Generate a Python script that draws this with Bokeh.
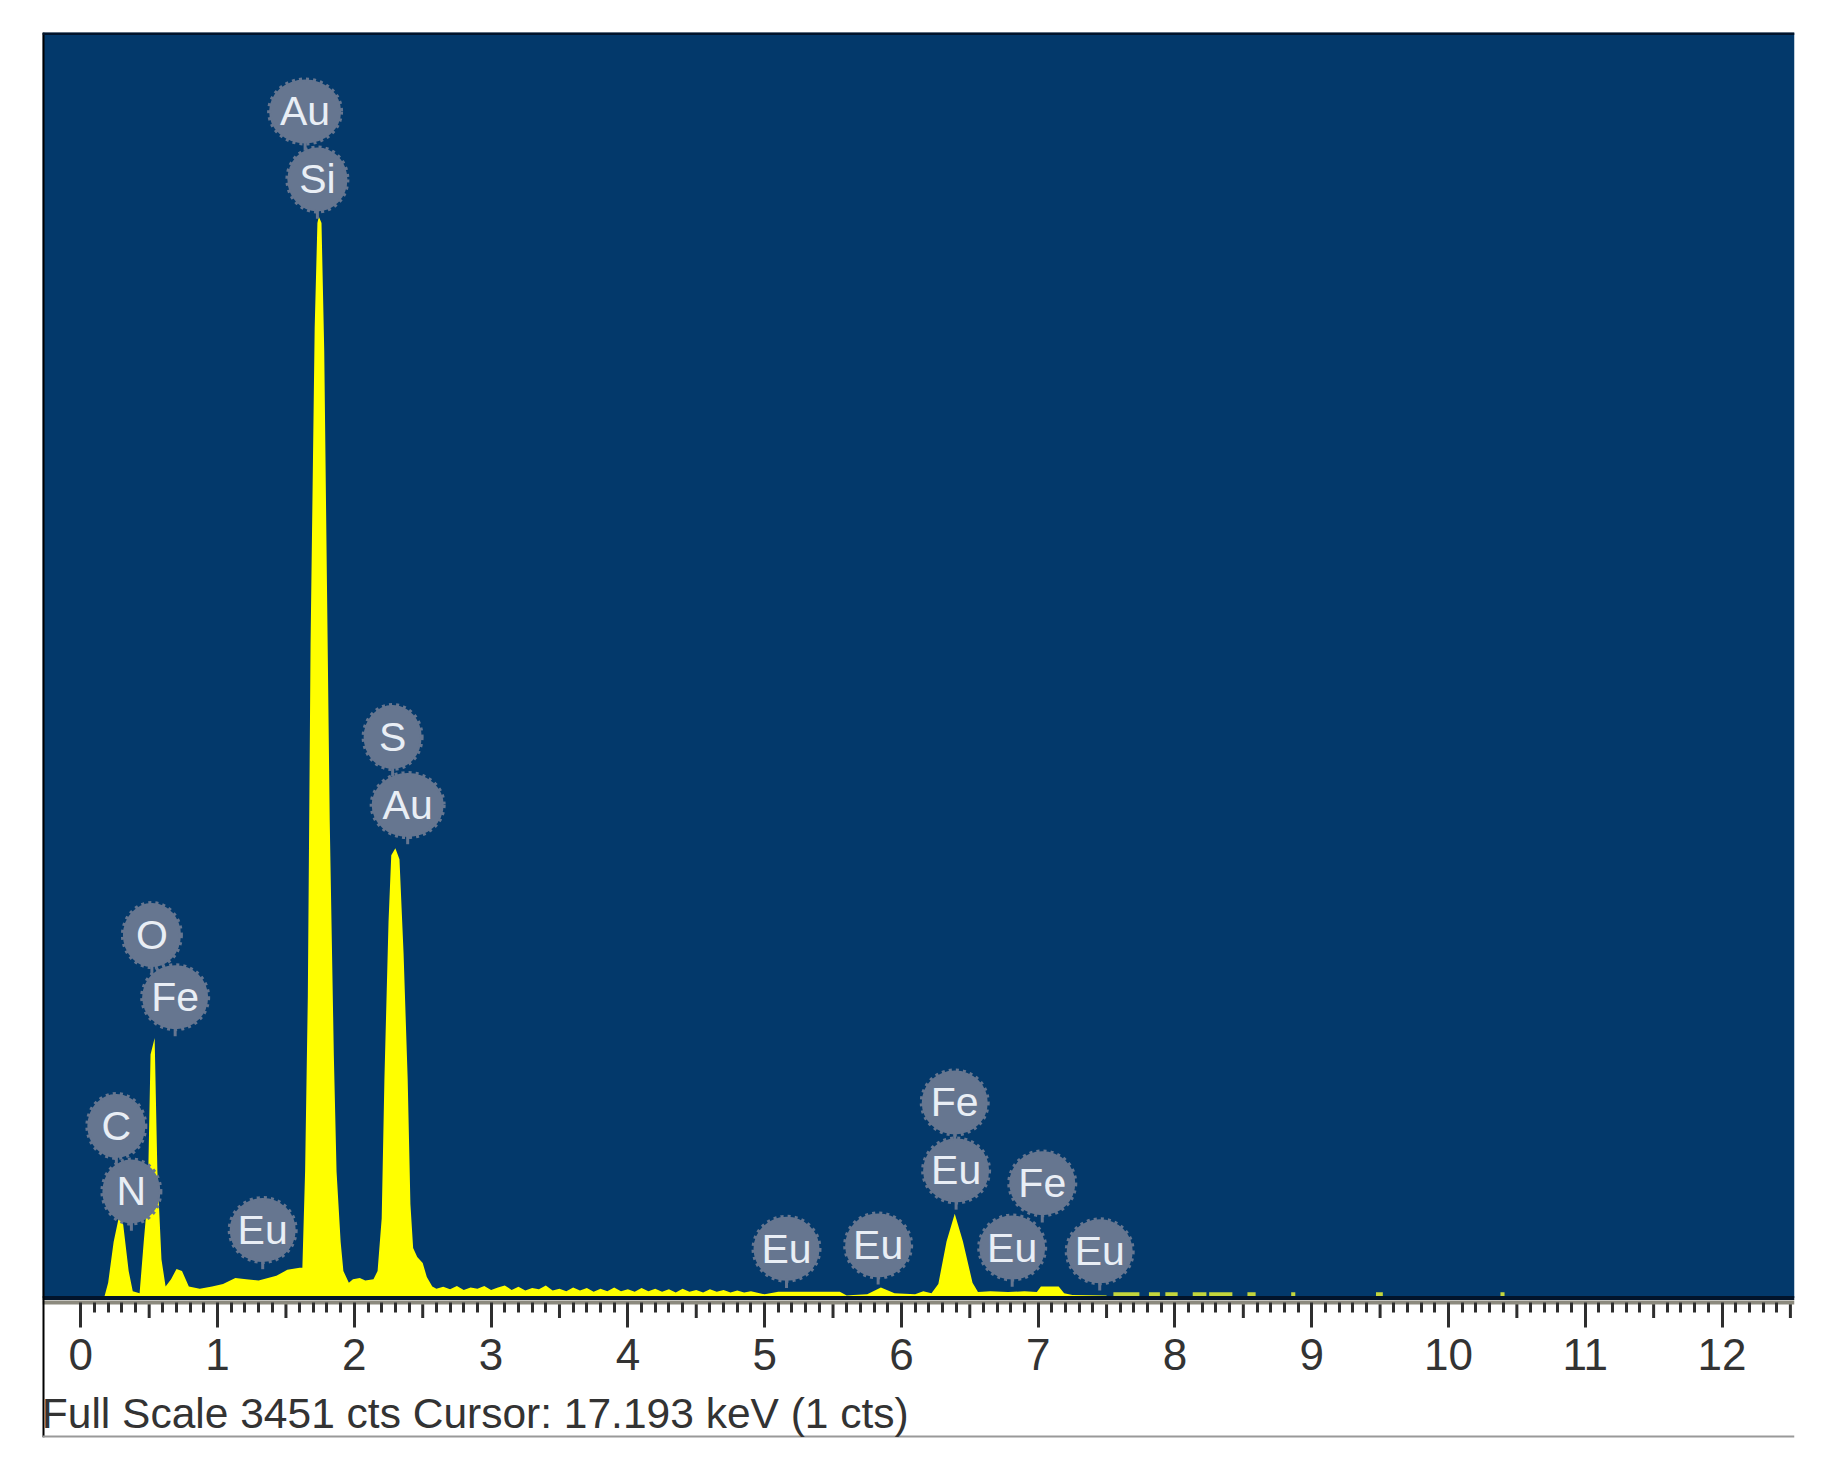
from bokeh.plotting import figure
from bokeh.models import Range1d, LinearAxis, FixedTicker, Span, Label
from bokeh.core.properties import value
from bokeh.embed import file_html
from bokeh.resources import INLINE

energy_kev = [0.17,0.20,0.24,0.28,0.31,0.35,0.38,0.43,0.46,0.49,0.51,0.54,0.56,0.59,0.62,0.66,0.70,0.74,0.79,0.87,0.96,1.04,1.13,1.21,1.30,1.43,1.51,1.60,1.62,
 1.64,1.66,1.68,1.71,1.73,1.74,1.76,1.78,1.80,1.82,1.85,1.87,1.90,1.92,1.96,1.99,2.04,2.08,2.14,2.17,2.20,2.22,2.25,2.27,2.30,2.33,2.36,2.39,2.41,2.43,2.46,2.50,2.53,2.57,
 2.60,2.65,2.70,2.75,2.80,2.85,2.90,2.95,3.00,3.05,3.10,3.15,3.20,3.25,3.30,3.35,3.40,3.45,3.50,3.55,3.60,3.65,3.70,3.75,3.80,3.85,3.90,3.95,4.00,4.05,4.10,4.15,4.20,4.25,4.30,4.35,4.40,4.45,4.50,4.55,4.60,4.65,4.70,4.75,4.80,4.85,4.90,5.00,5.10,5.30,5.55,5.60,5.65,5.75,5.85,5.95,6.10,6.16,6.22,
 6.27,6.33,6.39,6.45,6.52,6.56,6.65,6.78,6.90,6.99,7.02,7.15,7.19,7.25,7.50]
counts = [0,49,179,262,235,86,22,15,179,329,777,830,404,123,37,60,93,86,37,30,37,45,64,60,56,71,90,97,97,
 404,964,2085,3094,3430,3451,3430,3020,2272,1525,777,404,179,86,49,60,64,56,60,86,254,700,1200,1413,1435,1400,1100,700,300,160,131,112,67,37,
 30,36,28,38,26,34,30,38,26,34,40,26,36,24,32,28,40,24,30,22,34,24,32,20,30,22,34,22,28,20,32,22,30,20,28,18,30,20,26,18,28,20,26,18,24,18,22,12,20,20,20,8,10,12,34,15,12,22,15,
 45,180,269,180,49,19,22,19,22,19,37,37,15,10,8]

tail_start_kev = [7.55,7.81,7.93,8.13,8.25,8.53,8.85,9.47,10.38]
tail_end_kev = [7.74,7.89,8.02,8.23,8.42,8.59,8.88,9.52,10.41]
tail_cts = [12,12,12,12,12,12,12,12,12]

label_text = ["Au","Si","S","Au","O","Fe","C","N","Eu","Eu","Eu","Fe","Eu","Fe","Eu","Eu"]
label_kev = [1.64,1.73,2.28,2.39,0.52,0.69,0.26,0.37,1.33,5.16,5.83,6.39,6.40,7.03,6.81,7.45]
label_cts = [3786,3569,1790,1573,1158,960,549,340,217,157,168,624,407,366,161,149]
label_w = [72,60,58,72,58,66,58,58,66,66,66,66,66,66,66,66]

major_ticks = list(range(0, 13))
minor_ticks = [i / 10 for i in range(0, 126) if i % 10 != 0 and i % 10 != 5]
mid_ticks = [i + 0.5 for i in range(0, 13)]
footer = "Full Scale 3451 cts  Cursor: 17.193 keV (1 cts)"

BLUE = "#03396B"
YELLOW = "#FFFF00"
BUBBLE = "#667690"
AXIS_Y = -14

p = figure(width=1820, height=1449, output_backend="svg", toolbar_location=None,
           x_range=Range1d(-0.28, 12.53), y_range=Range1d(-445, 4038),
           x_axis_location=None, y_axis_location=None,
           min_border_left=42, min_border_right=26, min_border_top=32, min_border_bottom=12)
p.grid.visible = False
p.outline_line_color = None
p.background_fill_color = "white"

p.quad(left=[-0.28], right=[12.53], bottom=[0], top=[4038], fill_color=BLUE, line_color=None)
p.add_layout(Span(location=0, dimension="width", line_color="#02142B", line_width=4))
p.varea(x=energy_kev, y1=[0] * len(energy_kev), y2=counts, fill_color=YELLOW)
p.segment(x0=tail_start_kev, x1=tail_end_kev, y0=tail_cts, y1=tail_cts, line_color="#C4D63C", line_width=4)

stem_bot = [c - 125 for c in label_cts]
p.segment(x0=label_kev, x1=label_kev, y0=label_cts, y1=stem_bot, line_color=BUBBLE, line_width=3)
p.ellipse(x=label_kev, y=label_cts, width=label_w, height=[64] * len(label_w),
          width_units="screen", height_units="screen",
          fill_color=BUBBLE, line_color=BUBBLE, line_width=4, line_dash="3 4")
p.text(x=label_kev, y=label_cts, text=label_text, text_color="#E9EEF5", text_font=value("Liberation Sans"),
       text_font_size="41px", text_align="center", text_baseline="middle")

p.segment(x0=mid_ticks, x1=mid_ticks, y0=[AXIS_Y] * len(mid_ticks), y1=[AXIS_Y - 50] * len(mid_ticks),
          line_color="#2E2E2E", line_width=3)

a = LinearAxis(fixed_location=AXIS_Y, ticker=FixedTicker(ticks=major_ticks, minor_ticks=minor_ticks))
a.axis_line_color = "#8C8A7E"
a.axis_line_width = 4
a.major_tick_in = 0
a.major_tick_out = 25
a.major_tick_line_color = "#2E2E2E"
a.major_tick_line_width = 3
a.minor_tick_in = 0
a.minor_tick_out = 10
a.minor_tick_line_color = "#2E2E2E"
a.minor_tick_line_width = 3
a.major_label_text_font = "Liberation Sans"
a.major_label_text_font_size = "44px"
a.major_label_text_color = "#333333"
a.major_label_standoff = 12
p.add_layout(a, "below")

p.add_layout(Span(location=-0.28, dimension="height", line_color="#000000", line_width=4))
p.add_layout(Span(location=4038, dimension="width", line_color="#02142B", line_width=5))
p.add_layout(Span(location=-445, dimension="width", line_color="#999999", line_width=4))
p.add_layout(Label(x=-0.285, y=-444, text=footer, text_font="Liberation Sans", text_font_size="42.5px",
                   text_color="#333333", text_baseline="bottom", text_align="left"))

open("out.html", "w").write(file_html(p, INLINE))
